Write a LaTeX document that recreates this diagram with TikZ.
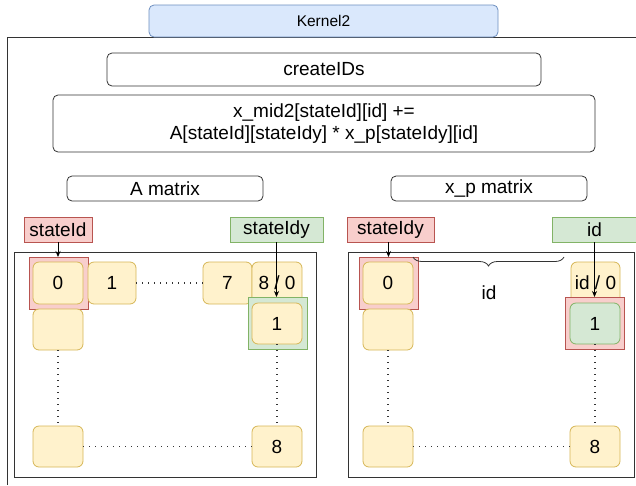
\documentclass[tikz,border=0pt]{standalone}
\usepackage{fontspec}
\setmainfont{Liberation Sans}
\usetikzlibrary{arrows.meta,decorations.pathreplacing}

\definecolor{linegray}{HTML}{333333}
\definecolor{cellfill}{HTML}{FFF2CC}
\definecolor{celldraw}{HTML}{D6B656}
\definecolor{redfill}{HTML}{F8CECC}
\definecolor{reddraw}{HTML}{B85450}
\definecolor{greenfill}{HTML}{D5E8D4}
\definecolor{greendraw}{HTML}{82B366}
\definecolor{bluefill}{HTML}{DAE8FC}
\definecolor{bluedraw}{HTML}{6C8EBF}

\tikzset{
  sz/.style 2 args={minimum width=#1, minimum height=#2},
  base/.style={inner sep=0pt, outer sep=0pt, line width=0.8pt,
    font=\fontsize{19}{22}\selectfont, align=center},
  textbox/.style={base, draw=linegray, rounded corners=5pt},
  tabbox/.style={base, draw=bluedraw, fill=bluefill, rounded corners=5pt,
    font=\fontsize{15.5}{18}\selectfont},
  panel/.style={base, draw=linegray},
  redlabel/.style={base, draw=reddraw, fill=redfill},
  greenlabel/.style={base, draw=greendraw, fill=greenfill},
  redmark/.style={base, draw=reddraw, fill=redfill},
  greenmark/.style={base, draw=greendraw, fill=greenfill},
  cell/.style={base, draw=celldraw, fill=cellfill, rounded corners=6pt},
  greencell/.style={base, draw=greendraw, fill=greenfill, rounded corners=6pt},
  pointer/.style={draw=black, line width=0.8pt, -{Stealth[length=6pt,width=5pt]}},
  dots/.style={draw=linegray, line width=1.3pt, dash pattern=on 1.4pt off 4.6pt},
  frameline/.style={draw=linegray, line width=0.8pt},
}

\begin{document}
\begin{tikzpicture}[x=1pt,y=-1pt]
\useasboundingbox (0,0) rectangle (636,485);

% kernel frame and its tab
\draw[frameline] (7,485) -- (7,37) -- (636,37);
\node[tabbox, sz={349}{32}] (kernel) at (323.5,21) {Kernel2};

% code boxes
\node[textbox, sz={434}{33}] (create) at (324,69.5) {createIDs};
\node[textbox, sz={542}{57}] (formula) at (324,123.5)
  {x\_mid2[stateId][id] +=\\A[stateId][stateIdy] * x\_p[stateIdy][id]};
\node[textbox, sz={196}{25}] (amat) at (165,188.5) {A matrix};
\node[textbox, sz={196}{25}] (xpmat) at (489,188.5) {x\_p matrix};

% ---------- A matrix ----------
\node[redlabel, sz={68}{25}] (sid) at (58,229.5) {stateId};
\node[greenlabel, sz={93}{25}] (sidy) at (276.5,229.5) {stateIdy};
\node[panel, sz={302}{225}] (apanel) at (165,364.5) {};

\node[redmark, sz={59}{52}] (amark) at (58.5,283) {};
\node[cell, sz={50}{42}] (a00) at (58,283) {0};
\node[cell, sz={48}{42}] (a01) at (112,283) {1};
\node[cell, sz={49}{42}] (a07) at (227.5,283) {7};
\node[cell, sz={50}{42}] (a08) at (277,283) {8 / 0};
\node[greenmark, sz={59}{52}] (bmark) at (277.5,323) {};
\node[cell, sz={50}{41}] (a11) at (277,323.5) {1};
\node[cell, sz={50}{41}] (a10) at (58,329.5) {};
\node[cell, sz={50}{41}] (a70) at (58,446.5) {};
\node[cell, sz={50}{41}] (a78) at (277,446.5) {8};

\draw[pointer] (sid.south) -- (sid.south |- amark.north);
\draw[pointer] (sidy.south) -- (sidy.south |- bmark.north);
\draw[dots] (a01.east) -- (a07.west);
\draw[dots] (a10.south) -- (a70.north);
\draw[dots] (a70.east) -- (a78.west);
\draw[dots] (a11.south) -- (a78.north);

% ---------- x_p matrix ----------
\node[redlabel, sz={87}{25}] (sidyr) at (390.5,229.5) {stateIdy};
\node[greenlabel, sz={85}{25}] (idl) at (594.5,229.5) {id};
\node[panel, sz={286}{225}] (xpanel) at (491,364.5) {};

\node[redmark, sz={59}{52}] (cmark) at (388.5,283) {};
\node[cell, sz={50}{42}] (x00) at (388,283) {0};
\node[cell, sz={49}{42}] (x0n) at (595.5,283) {id / 0};
\node[redmark, sz={59}{52}] (dmark) at (594.5,323) {};
\node[greencell, sz={50}{41}] (x1n) at (595,323.5) {1};
\node[cell, sz={50}{41}] (x10) at (388,329.5) {};
\node[cell, sz={50}{41}] (x70) at (388,446.5) {};
\node[cell, sz={50}{41}] (x78) at (595,446.5) {8};

\coordinate (braceR) at (564,257);
\coordinate (braceL) at (x00.north east |- braceR);
\draw[line width=0.8pt, draw=linegray,
  decorate, decoration={brace, amplitude=9pt}] (braceR) -- (braceL);
\node[base] (idspan) at (489,293) {id};

\draw[pointer] (cmark.north |- sidyr.south) -- (cmark.north);
\draw[pointer] (idl.south) -- (idl.south |- dmark.north);
\draw[dots] (x10.south) -- (x70.north);
\draw[dots] (x70.east) -- (x78.west);
\draw[dots] (x1n.south) -- (x78.north);
\end{tikzpicture}
\end{document}
